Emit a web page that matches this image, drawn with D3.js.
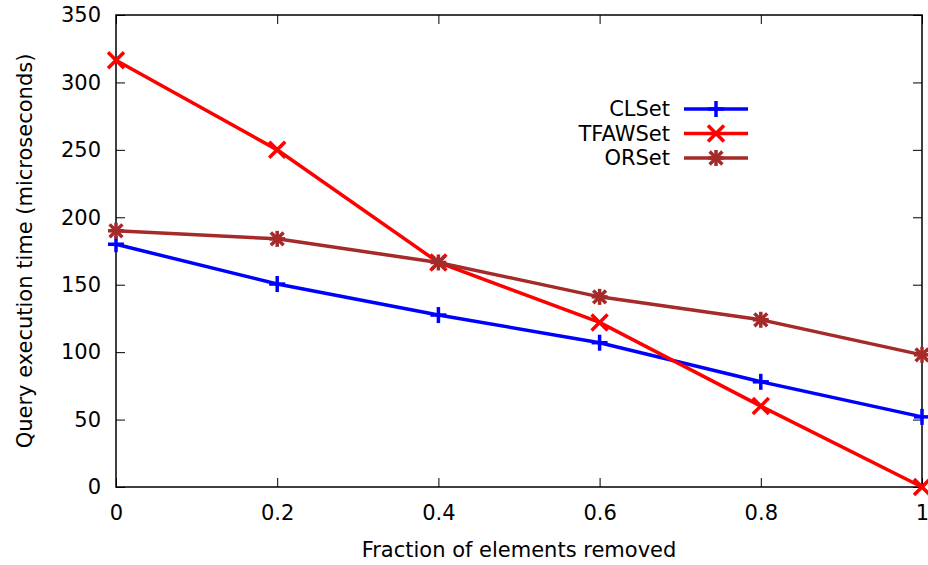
<!DOCTYPE html>
<html>
<head>
<meta charset="utf-8">
<script src="https://cdn.jsdelivr.net/npm/d3@7"></script>
<style>
  body { margin: 0; background: #fff; }
  svg { font-family: "DejaVu Sans", sans-serif; }
</style>
</head>
<body>
<svg width="928" height="565"></svg>
<script>
const fractions = [0, 0.2, 0.4, 0.6, 0.8, 1];
const clset = [180, 150.5, 127.5, 107, 78, 52];
const tfawset = [316.5, 250, 166.5, 122, 60, 0];
const orset = [190, 184, 166.5, 141, 124, 98];
const xTicks = [0, 0.2, 0.4, 0.6, 0.8, 1];
const yTicks = [0, 50, 100, 150, 200, 250, 300, 350];

const series = [
  { name: "CLSet", values: clset, color: "#0000ff", shape: "plus" },
  { name: "TFAWSet", values: tfawset, color: "#ff0000", shape: "cross" },
  { name: "ORSet", values: orset, color: "#a52a2a", shape: "star" }
];

const FONT = "DejaVu Sans, sans-serif";
const FS = 21;

const svg = d3.select("svg");
const margin = { left: 116, right: 6, top: 15, bottom: 78 };
const width = +svg.attr("width"), height = +svg.attr("height");
const x = d3.scaleLinear().domain([0, 1]).range([margin.left, width - margin.right]);
const y = d3.scaleLinear().domain([0, 350]).range([height - margin.bottom, margin.top]);

const styleAxis = g => {
  g.attr("font-family", FONT).attr("font-size", FS);
  g.select(".domain").remove();
  g.selectAll(".tick line").attr("stroke", "#000");
  g.selectAll(".tick text").attr("fill", "#000");
};

// axes with inward ticks, mirrored
svg.append("g")
  .attr("transform", `translate(0,${y(0)})`)
  .call(d3.axisBottom(x).tickValues(xTicks).tickSize(-9).tickPadding(18).tickFormat(d3.format("")))
  .call(styleAxis);
svg.append("g")
  .attr("transform", `translate(0,${y(350)})`)
  .call(d3.axisTop(x).tickValues(xTicks).tickSize(-9).tickFormat(""))
  .call(styleAxis);
svg.append("g")
  .attr("transform", `translate(${x(0)},0)`)
  .call(d3.axisLeft(y).tickValues(yTicks).tickSize(-9).tickPadding(15))
  .call(styleAxis);
svg.append("g")
  .attr("transform", `translate(${x(1)},0)`)
  .call(d3.axisRight(y).tickValues(yTicks).tickSize(-9).tickFormat(""))
  .call(styleAxis);

svg.append("rect")
  .attr("x", x(0)).attr("y", y(350))
  .attr("width", x(1) - x(0)).attr("height", y(0) - y(350))
  .attr("fill", "none").attr("stroke", "#000").attr("stroke-width", 1.5);

svg.append("text")
  .attr("x", (x(0) + x(1)) / 2).attr("y", 557)
  .attr("text-anchor", "middle").attr("font-size", FS)
  .text("Fraction of elements removed");
svg.append("text")
  .attr("transform", `translate(32,${(y(0) + y(350)) / 2}) rotate(-90)`)
  .attr("text-anchor", "middle").attr("font-size", FS)
  .text("Query execution time (microseconds)");

function marker(g, shape, color, cx, cy) {
  const s = 8;
  const segs = [];
  if (shape === "plus" || shape === "star") segs.push([-s, 0, s, 0], [0, -s, 0, s]);
  if (shape === "cross" || shape === "star") {
    const d = shape === "star" ? s * 0.8 : s;
    segs.push([-d, -d, d, d], [-d, d, d, -d]);
  }
  segs.forEach(p => g.append("line")
    .attr("x1", cx + p[0]).attr("y1", cy + p[1])
    .attr("x2", cx + p[2]).attr("y2", cy + p[3])
    .attr("stroke", color).attr("stroke-width", 3.5));
}

const line = d3.line().x((d, i) => x(fractions[i])).y(d => y(d));
series.forEach(s => {
  svg.append("path").datum(s.values)
    .attr("d", line).attr("fill", "none")
    .attr("stroke", s.color).attr("stroke-width", 3.5);
  const g = svg.append("g");
  s.values.forEach((v, i) => marker(g, s.shape, s.color, x(fractions[i]), y(v)));
});

// legend
const legend = svg.append("g");
series.forEach((s, i) => {
  const ly = 109 + i * 24.5;
  legend.append("text")
    .attr("x", 670).attr("y", ly).attr("dy", "0.35em")
    .attr("text-anchor", "end").attr("font-size", FS)
    .text(s.name);
  legend.append("line")
    .attr("x1", 684).attr("x2", 748).attr("y1", ly).attr("y2", ly)
    .attr("stroke", s.color).attr("stroke-width", 3.5);
  marker(legend, s.shape, s.color, 716, ly);
});
</script>
</body>
</html>
